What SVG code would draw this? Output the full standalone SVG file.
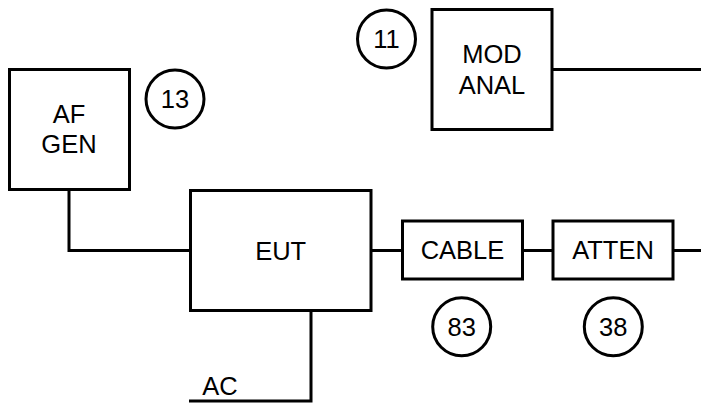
<svg xmlns="http://www.w3.org/2000/svg" width="701" height="404" viewBox="0 0 701 404">
<style>
.b{fill:#fff;stroke:#000;stroke-width:3}
.c{fill:none;stroke:#000;stroke-width:3}
text{font-family:"Liberation Sans",Arial,sans-serif;font-size:25.5px;fill:#000;text-anchor:middle}
</style>
<rect width="701" height="404" fill="#fff"/>
<g id="connectors">
<polyline class="c" points="69,190 69,250.5 190.5,250.5"/>
<polyline class="c" points="311,310 311,401 189,401"/>
<line class="c" x1="553" y1="69.5" x2="701" y2="69.5"/>
<line class="c" x1="371" y1="250.5" x2="402.5" y2="250.5"/>
<line class="c" x1="522.5" y1="250.5" x2="553" y2="250.5"/>
<line class="c" x1="673" y1="250.5" x2="701" y2="250.5"/>
</g>
<g id="afgen"><rect class="b" x="9.5" y="69.5" width="120" height="120"/><text x="69" y="123">AF</text><text x="69" y="153">GEN</text></g>
<g id="c13"><circle class="b" cx="175" cy="99" r="29"/><text x="175" y="108">13</text></g>
<g id="c11"><circle class="b" cx="386.5" cy="39" r="29"/><text x="386.5" y="48">11</text></g>
<g id="modanal"><rect class="b" x="432" y="9.5" width="120" height="120"/><text x="492" y="63">MOD</text><text x="492" y="94">ANAL</text></g>
<g id="eut"><rect class="b" x="190.5" y="190.5" width="180.5" height="120"/><text x="280.7" y="259.5">EUT</text></g>
<g id="cable"><rect class="b" x="402.5" y="221" width="120" height="58"/><text x="462.5" y="259">CABLE</text></g>
<g id="atten"><rect class="b" x="553" y="221" width="120" height="58"/><text x="613" y="259">ATTEN</text></g>
<g id="c83"><circle class="b" cx="461.7" cy="326.7" r="29"/><text x="461.7" y="335.5">83</text></g>
<g id="c38"><circle class="b" cx="613.3" cy="326.7" r="29"/><text x="613.3" y="335.5">38</text></g>
<g id="ac"><text x="220" y="395">AC</text></g>
</svg>
